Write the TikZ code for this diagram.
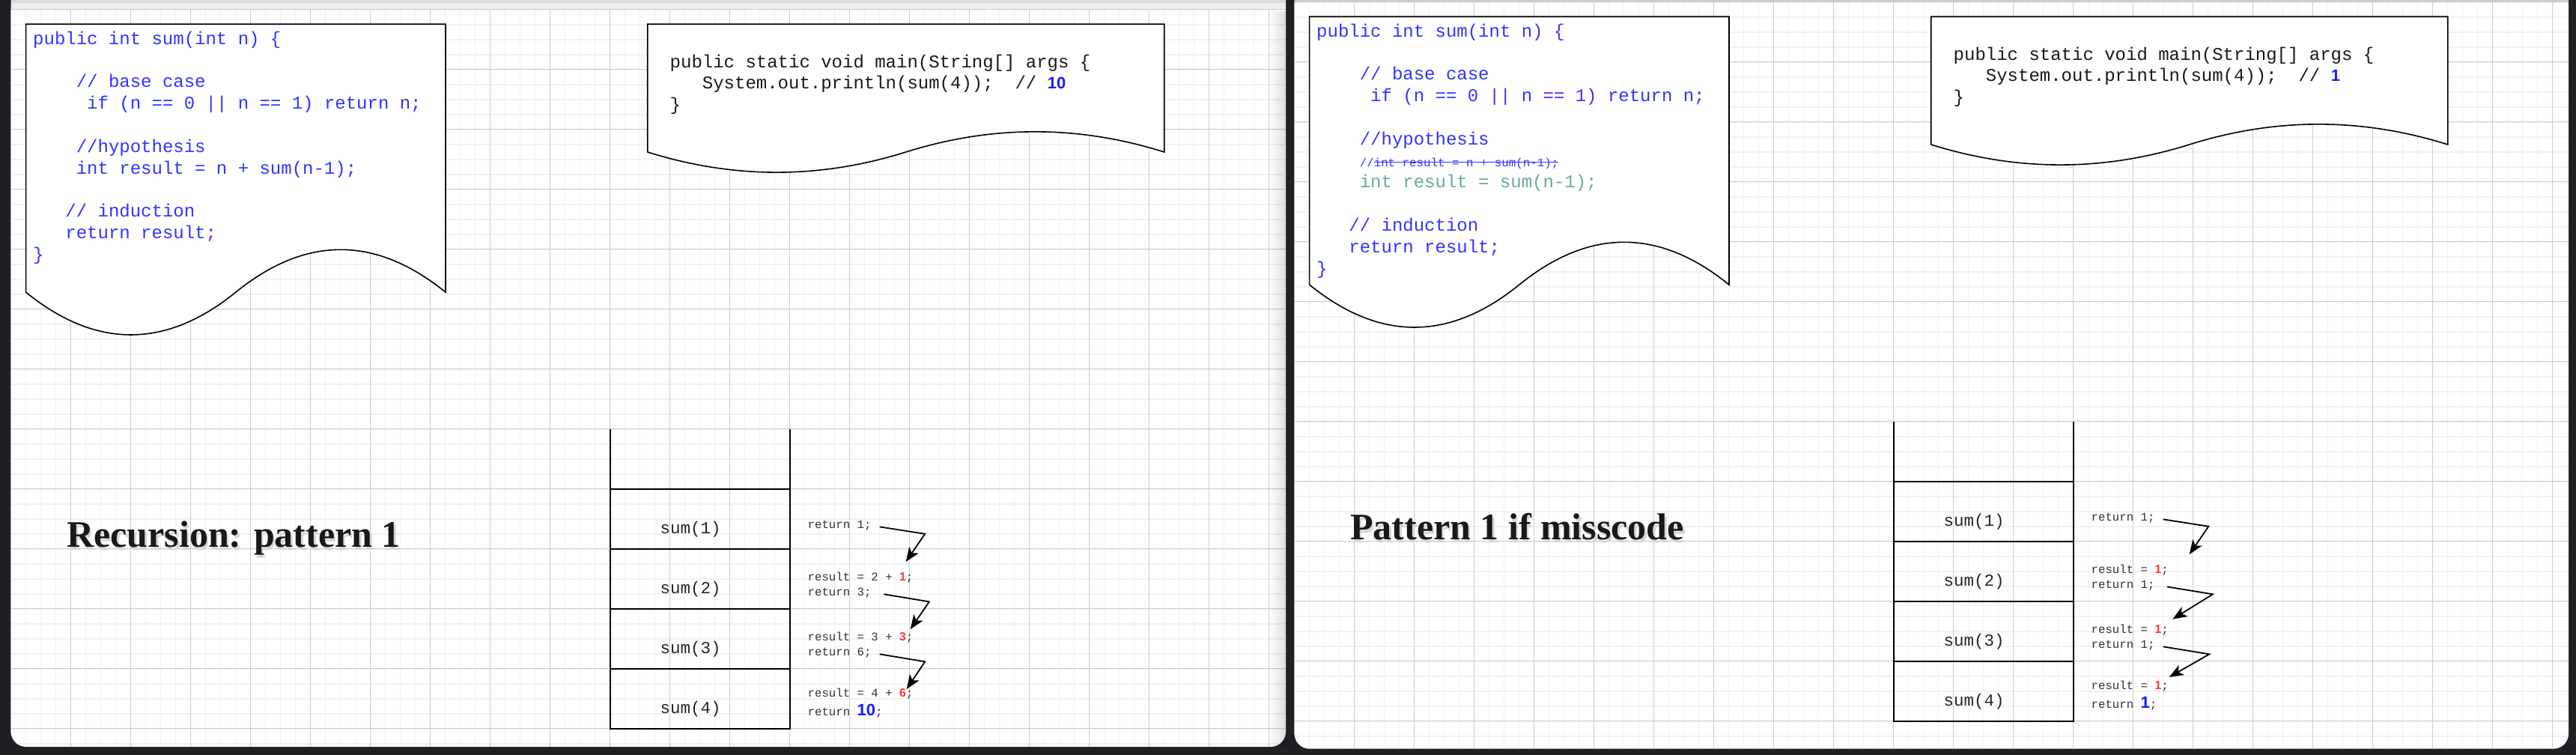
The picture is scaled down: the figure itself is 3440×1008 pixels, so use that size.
\documentclass[tikz,border=0pt]{standalone}
\usepackage{fontspec}
\newfontfamily\codefont{Liberation Mono}
\newfontfamily\numfont{Liberation Sans}
\newfontfamily\headfont{Liberation Serif}
\usetikzlibrary{positioning}
\usetikzlibrary{calc}
\usetikzlibrary{arrows.meta}
\usetikzlibrary{fadings}

\definecolor{bgdark}{HTML}{1F2023}
\definecolor{codeblue}{HTML}{3333FF}
\definecolor{numblue}{HTML}{1A1AFF}
\definecolor{numred}{HTML}{FF3333}
\definecolor{fixgreen}{HTML}{67AB9F}
\definecolor{gridminor}{HTML}{F2F2F2}
\definecolor{gridmajor}{HTML}{CDCDCD}

% indent by a number of monospace characters
\newcommand\ind[1]{\hspace*{#1\dimexpr0.6em\relax}}
\newcommand\rednum[1]{{\numfont\bfseries\color{numred}#1}}
\newcommand\bluenum[1]{{\numfont\bfseries\fontsize{22}{26}\selectfont\color{numblue}#1}}
\newcommand\shadowtext[1]{\rlap{\kern2.5pt\raisebox{-4.5pt}{\color{black!16}#1}}#1}
\newsavebox\strikebox
\newcommand\strike[1]{\sbox\strikebox{#1}\rlap{\rule[0.3em]{\wd\strikebox}{1.1pt}}\usebox\strikebox}

% canvas grid: origin x, origin y, width, height
\newcommand\panelgrid[4]{%
  \begin{scope}[shift={(#1,#2)}]
    \clip[rounded corners=20pt] (0,-60) rectangle (#3,#4);
    \foreach \gx in {0,20,...,#3} \draw[minorgrid] (\gx,0) -- (\gx,#4);
    \foreach \gy in {0,20,...,#4} \draw[minorgrid] (0,\gy) -- (#3,\gy);
    \foreach \gx in {0,80,...,#3} \draw[majorgrid] (\gx,0) -- (\gx,#4);
    \foreach \gy in {0,80,...,#4} \draw[majorgrid] (0,\gy) -- (#3,\gy);
  \end{scope}}

% document outline with a wavy bottom edge, around a docbox node
\newcommand\docwave[1]{%
  \path[docline] let \p1 = (#1.north west), \p2 = (#1.south east),
      \n1 = {\x2-\x1}, \n2 = {\y1-\y2} in
    (\x1,\y1) -- (\x2,\y1) -- (\x2,{\y2+0.15*\n2})
    .. controls ({\x1+0.8333*\n1},{\y2+0.33*\n2}) and ({\x1+0.6667*\n1},{\y2+0.33*\n2}) ..
    ({\x1+0.5*\n1},{\y2+0.15*\n2})
    .. controls ({\x1+0.3333*\n1},{\y2-0.03*\n2}) and ({\x1+0.1667*\n1},{\y2-0.03*\n2}) ..
    (\x1,{\y2+0.15*\n2}) -- cycle;}

\tikzset {
  minorgrid/.style = {draw = gridminor, line width = 1.7pt},
  majorgrid/.style = {draw = gridmajor, line width = 0.9pt},
  % document shapes
  docbox/.style = {
    rectangle,
    inner sep = 0,
    outer sep = 0,
    anchor = north west
  },
  docline/.style = {
    draw = black,
    fill = white,
    line width = 1.6pt
  },
  codetext/.style = {
    align = left,
    anchor = north west,
    inner sep = 0,
    font = \codefont\fontsize{24}{28.8}\selectfont
  },
  headline/.style = {
    anchor = base west,
    inner sep = 0,
    text = black!90,
    font = \headfont\bfseries\fontsize{50}{60}\selectfont
  }
}
\tikzset {
  % one frame of the call stack
  callframe/.style = {
    draw = black,
    rectangle,
    line width = 2pt,
    minimum width = 240pt,
    minimum height = 80pt,
    inner sep = 0,
    outer sep = 0
  },
  calllabel/.style = {
    anchor = base,
    xshift = -12.6pt,
    yshift = -14pt,
    inner sep = 0,
    text = black!85,
    font = \codefont\fontsize{22.5}{26}\selectfont
  },
  stackline/.style = {
    draw = black,
    line width = 2pt
  },
  % text beside a frame
  retnote/.style = {
    anchor = base west,
    inner sep = 0,
    text = black!80,
    font = \codefont\fontsize{15.7}{20}\selectfont
  },
  retarrow/.style = {
    draw = black,
    line width = 1.8pt,
    -{Stealth[length = 19pt, width = 15pt, inset = 5pt]}
  }
}

\begin{document}
\begin{tikzpicture}[x=1pt, y=-1pt]
  \useasboundingbox (0,0) rectangle (3440,1008);
  \clip (0,0) rectangle (3440,1008);
  % window and the two canvases
  \fill[bgdark] (0,0) rectangle (3440,1008);
  \fill[white, rounded corners=20pt] (14.6,-40) rectangle (1717,997);
  \fill[white, rounded corners=20pt] (1728.6,-40) rectangle (3430,999.7);
  \fill[gray!14] (14.6,0) rectangle (1717,12.7);
  \fill[gray!28] (14.6,0) rectangle (1717,4);
  \fill[gray!40] (1728.6,0) rectangle (3430,2.7);
  \panelgrid{14.6}{12.7}{1702.4}{984.3}
  \panelgrid{1728.6}{2.7}{1701.4}{997}
  \fill[black, opacity=.12, path fading=west] (1693,12.7) rectangle (1717,997);

  % left canvas
  \node[docbox, minimum width=560.4pt, minimum height=421pt] (sum-doc) at (34.6,32.3) {};
  \docwave{sum-doc}
  \node[codetext, text=codeblue] (sum-code) at ([shift={(9.4,9.5)}]sum-doc.north west) {%
    public int sum(int n) \{\\[28.8pt]
    \ind{4}// base case\\
    \ind{5}if (n == 0 || n == 1) return n;\\[28.8pt]
    \ind{4}//hypothesis\\
    \ind{4}int result = n + sum(n-1);\\[28.8pt]
    \ind{3}// induction\\
    \ind{3}return result;\\
    \}};

  \node[docbox, minimum width=690pt, minimum height=200.8pt] (main-doc) at (864.7,32.3) {};
  \docwave{main-doc}
  \node[codetext, text=black!90] (main-code) at ([shift={(29.8,40.2)}]main-doc.north west) {%
    public static void main(String[] args \{\\
    \ind{3}System.out.println(sum(4));\ind{2}// \bluenum{10}\\
    \}};

  \node[headline] (title) at (89,730) {\shadowtext{Recursion: pattern 1}};

  \node[callframe, label={[calllabel]center:sum(4)}] (call4) at (934.6,932.7) {};
  \node[callframe, label={[calllabel]center:sum(3)}] (call3) [above=0pt of call4] {};
  \node[callframe, label={[calllabel]center:sum(2)}] (call2) [above=0pt of call3] {};
  \node[callframe, label={[calllabel]center:sum(1)}] (call1) [above=0pt of call2] {};
  \draw[stackline] (call1.north west) -- ++(0,-80);
  \draw[stackline] (call1.north east) -- ++(0,-80);

  \node[retnote] (ret1) at ([shift={(23.9,12.5)}]call1.east) {return 1;};
  \node[retnote] (res2) at ([shift={(23.9,2.5)}]call2.east) {result = 2 + \rednum{1};};
  \node[retnote] (ret2) at ([shift={(23.9,22.5)}]call2.east) {return 3;};
  \node[retnote] (res3) at ([shift={(23.9,3.1)}]call3.east) {result = 3 + \rednum{3};};
  \node[retnote] (ret3) at ([shift={(23.9,22.5)}]call3.east) {return 6;};
  \node[retnote] (res4) at ([shift={(23.9,-1.9)}]call4.east) {result = 4 + \rednum{6};};
  \node[retnote] (ret4) at ([shift={(23.9,22.5)}]call4.east) {return \bluenum{10};};

  \draw[retarrow] ([shift={(11,2)}]ret1.east) -- ++(60.5,9.4) -- ([shift={(-9.8,-13.6)}]res2.north east);
  \draw[retarrow] ([shift={(16.7,2)}]ret2.east) -- ++(60.5,10) -- ([shift={(-3.8,-4.2)}]res3.north east);
  \draw[retarrow] ([shift={(11,2)}]ret3.east) -- ++(60.5,10) -- ([shift={(-8.8,0.8)}]res4.north east);

  % right canvas, same layout one step up
  \begin{scope}[shift={(1714,-10)}]
    \node[docbox, minimum width=560.4pt, minimum height=421pt] (mis-sum-doc) at (34.6,32.3) {};
    \docwave{mis-sum-doc}
    \node[codetext, text=codeblue] (mis-sum-code) at ([shift={(9.4,9.5)}]mis-sum-doc.north west) {%
      public int sum(int n) \{\\[28.8pt]
      \ind{4}// base case\\
      \ind{5}if (n == 0 || n == 1) return n;\\[28.8pt]
      \ind{4}//hypothesis\\
      \ind{4}{\fontsize{15.8}{28.8}\selectfont//\strike{int result = n + sum(n-1);}}\\
      \ind{4}{\color{fixgreen}int result = sum(n-1);}\\[28.8pt]
      \ind{3}// induction\\
      \ind{3}return result;\\
      \}};

    \node[docbox, minimum width=690pt, minimum height=200.8pt] (mis-main-doc) at (864.7,32.3) {};
    \docwave{mis-main-doc}
    \node[codetext, text=black!90] (mis-main-code) at ([shift={(29.8,40.2)}]mis-main-doc.north west) {%
      public static void main(String[] args \{\\
      \ind{3}System.out.println(sum(4));\ind{2}// \bluenum{1}\\
      \}};

    \node[headline] (mis-title) at (89,730) {\shadowtext{Pattern 1 if misscode}};

    \node[callframe, label={[calllabel]center:sum(4)}] (mis-call4) at (934.6,932.7) {};
    \node[callframe, label={[calllabel]center:sum(3)}] (mis-call3) [above=0pt of mis-call4] {};
    \node[callframe, label={[calllabel]center:sum(2)}] (mis-call2) [above=0pt of mis-call3] {};
    \node[callframe, label={[calllabel]center:sum(1)}] (mis-call1) [above=0pt of mis-call2] {};
    \draw[stackline] (mis-call1.north west) -- ++(0,-80);
    \draw[stackline] (mis-call1.north east) -- ++(0,-80);

    \node[retnote] (mis-ret1) at ([shift={(23.9,12.5)}]mis-call1.east) {return 1;};
    \node[retnote] (mis-res2) at ([shift={(23.9,2.5)}]mis-call2.east) {result = \rednum{1};};
    \node[retnote] (mis-ret2) at ([shift={(23.9,22.5)}]mis-call2.east) {return 1;};
    \node[retnote] (mis-res3) at ([shift={(23.9,3.1)}]mis-call3.east) {result = \rednum{1};};
    \node[retnote] (mis-ret3) at ([shift={(23.9,22.5)}]mis-call3.east) {return 1;};
    \node[retnote] (mis-res4) at ([shift={(23.9,-1.9)}]mis-call4.east) {result = \rednum{1};};
    \node[retnote] (mis-ret4) at ([shift={(23.9,22.5)}]mis-call4.east) {return \bluenum{1};};

    \draw[retarrow] ([shift={(11,2)}]mis-ret1.east) -- ++(60.6,9.4) -- ([shift={(27.9,-13.6)}]mis-res2.north east);
    \draw[retarrow] ([shift={(16.1,2)}]mis-ret2.east) -- ++(61.1,10) -- ([shift={(5.5,-7.6)}]mis-res3.north east);
    \draw[retarrow] ([shift={(11,2)}]mis-ret3.east) -- ++(61.6,10) -- ([shift={(0.9,-5.2)}]mis-res4.north east);
  \end{scope}
\end{tikzpicture}
\end{document}
